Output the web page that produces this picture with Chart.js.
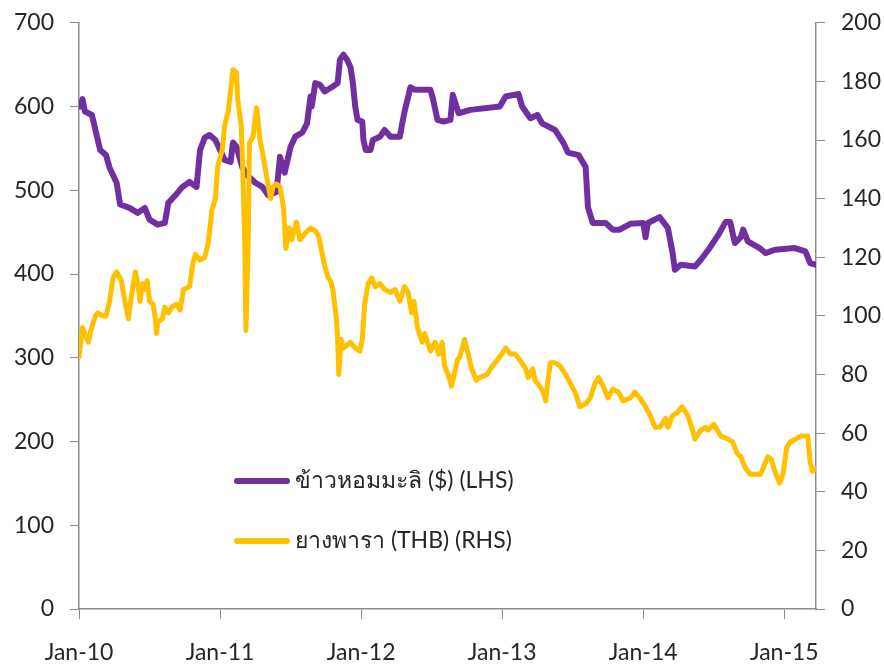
<!DOCTYPE html>
<html>
<head>
<meta charset="utf-8">
<script src="https://cdn.jsdelivr.net/npm/chart.js@4.4.0/dist/chart.umd.min.js"></script>
<style>
  html, body { margin: 0; padding: 0; background: #fff; overflow: hidden; }
  #wrap { width: 884px; height: 674px; margin-top: -7px; }
</style>
</head>
<body>
<div id="wrap"><canvas id="linechart"></canvas></div>
<script>
// months since Jan-10
const tickMonths = [0, 12, 24, 36, 48, 60];
const tickLabels = ['Jan-10', 'Jan-11', 'Jan-12', 'Jan-13', 'Jan-14', 'Jan-15'];

const riceLabel = 'ข้าวหอมมะลิ ($) (LHS)';
const riceMonths = [0.1, 0.3, 0.5, 1.1, 1.4, 1.8, 2.3, 2.6, 3.2, 3.5, 4.3, 5.0, 5.6, 6.0, 6.7, 7.3, 7.6, 8.2, 8.8, 9.4,
  10.0, 10.3, 10.7, 11.1, 11.6, 12.0, 12.4, 12.9, 13.1, 13.4, 13.9, 14.3, 15.0, 15.6, 16.1, 16.8, 17.1, 17.5, 18.0, 18.4,
  19.0, 19.4, 19.7, 19.8, 20.1, 20.5, 20.9, 21.5, 22.0, 22.2, 22.5, 22.8, 23.1, 23.3, 23.5, 23.7, 24.1, 24.2, 24.4, 24.8,
  25.0, 25.6, 26.0, 26.5, 27.3, 27.5, 27.7, 28.2, 28.6, 29.0, 29.9, 30.1, 30.5, 31.0, 31.6, 31.8, 32.3, 33.3, 35.8, 36.3,
  37.4, 37.7, 38.4, 39.0, 39.4, 40.5, 41.2, 41.6, 42.5, 43.1, 43.3, 43.7, 44.8, 45.4, 46.0, 46.9, 48.0, 48.2, 48.4, 49.4,
  50.1, 50.5, 50.7, 51.2, 52.4, 52.9, 53.7, 54.4, 55.0, 55.4, 55.8, 56.3, 56.5, 56.9, 57.9, 58.4, 59.2, 60.9, 61.8, 62.2, 62.7];
const riceValues = [600, 609, 594, 590, 572, 548, 542, 527, 509, 483, 479, 473, 479, 465, 459, 461, 485, 494, 504, 510,
  504, 548, 563, 566, 560, 548, 536, 534, 557, 552, 527, 518, 509, 504, 494, 498, 540, 521, 552, 564,
  569, 580, 612, 600, 628, 626, 618, 623, 628, 656, 662, 656, 647, 628, 600, 584, 582, 560, 548, 548,
  560, 564, 572, 564, 564, 580, 594, 623, 620, 620, 620, 610, 584, 582, 584, 614, 592, 596, 600, 612,
  615, 600, 586, 590, 580, 572, 557, 545, 542, 528, 480, 461, 461, 453, 453, 460, 461, 444, 461, 468,
  455, 425, 405, 411, 409, 417, 432, 447, 462, 462, 437, 444, 453, 439, 431, 425, 429, 431, 427, 413, 411];

const rubberLabel = 'ยางพารา (THB) (RHS)';
const rubberMonths = [0.0, 0.3, 0.5, 0.8, 1.0, 1.4, 1.6, 2.0, 2.3, 2.6,
  2.9, 3.2, 3.6, 3.9, 4.2, 4.5, 4.8, 5.0, 5.2, 5.4,
  5.6, 5.8, 6.0, 6.3, 6.5, 6.6, 6.7, 7.1, 7.3, 7.6,
  7.9, 8.3, 8.6, 8.9, 9.4, 9.7, 9.9, 10.3, 10.7, 11.0,
  11.3, 11.6, 11.8, 12.2, 12.4, 12.7, 12.9, 13.1, 13.4, 13.5,
  13.8, 13.9, 14.1, 14.2, 14.4, 14.5, 14.8, 15.1, 15.2, 15.4,
  15.7, 15.9, 16.3, 16.5, 16.8, 17.1, 17.4, 17.6, 17.9, 18.1,
  18.5, 18.8, 19.2, 19.7, 20.1, 20.4, 20.7, 20.9, 21.2, 21.4,
  21.6, 21.9, 22.0, 22.1, 22.3, 22.5, 23.1, 23.5, 23.9, 24.1,
  24.3, 24.6, 24.9, 25.2, 25.6, 26.0, 26.5, 26.9, 27.3, 27.7,
  28.0, 28.3, 28.5, 28.8, 29.2, 29.4, 29.9, 30.3, 30.6, 30.9,
  31.1, 31.4, 31.7, 32.2, 32.4, 32.8, 33.1, 33.4, 33.8, 34.1,
  34.7, 35.2, 35.8, 36.3, 36.7, 37.1, 37.5, 38.0, 38.2, 38.6,
  38.8, 39.2, 39.5, 39.7, 39.9, 40.1, 40.5, 40.9, 41.4, 41.8,
  42.2, 42.6, 43.1, 43.5, 43.9, 44.2, 44.6, 45.0, 45.4, 45.9,
  46.3, 46.9, 47.3, 47.7, 48.2, 48.6, 49.0, 49.4, 49.9, 50.1,
  50.5, 50.9, 51.3, 51.8, 52.2, 52.4, 52.9, 53.3, 53.5, 54.0,
  54.3, 54.6, 55.2, 55.6, 56.0, 56.3, 56.7, 57.1, 57.5, 58.0,
  58.4, 58.6, 58.9, 59.2, 59.6, 59.9, 60.2, 60.5, 61.0, 61.4,
  61.8, 62.0, 62.2, 62.4, 62.7];
const rubberValues = [86, 96, 94, 91, 95, 100, 101, 100, 100, 105,
  113, 115, 112, 105, 99, 108, 115, 111, 105, 111,
  109, 112, 105, 104, 99, 94, 98, 99, 103, 101,
  103, 104, 102, 109, 110, 118, 121, 119, 120, 125,
  136, 140, 151, 157, 165, 170, 177, 184, 183, 174,
  165, 154, 126, 95, 126, 159, 161, 171, 168, 160,
  154, 149, 140, 144, 145, 144, 137, 123, 130, 126,
  132, 126, 128, 130, 129, 127, 121, 117, 113, 112,
  109, 99, 93, 80, 92, 89, 91, 89, 88, 92,
  104, 111, 113, 110, 111, 109, 108, 109, 105, 110,
  108, 101, 105, 96, 91, 94, 88, 91, 87, 91,
  83, 80, 76, 85, 86, 92, 87, 82, 78, 79,
  80, 83, 86, 89, 87, 87, 85, 82, 79, 82,
  78, 76, 74, 71, 78, 84, 84, 83, 80, 77,
  74, 69, 70, 72, 77, 79, 76, 72, 75, 74,
  71, 72, 74, 72, 69, 66, 62, 62, 65, 62,
  66, 67, 69, 66, 61, 58, 61, 62, 61, 63,
  61, 59, 58, 57, 53, 52, 48, 46, 46, 46,
  50, 52, 51, 47, 43, 46, 55, 57, 58, 59,
  59, 59, 50, 47, 48];

const leftTicks = [0, 100, 200, 300, 400, 500, 600, 700];
const rightTicks = [0, 20, 40, 60, 80, 100, 120, 140, 160, 180, 200];

const purple = '#7030a0';
const gold = '#ffc000';
const axisGrey = '#8c8c8c';
const textColor = '#262626';

function toPoints(xs, ys) {
    return xs.map(function(x, i) { return { x: x, y: ys[i] }; });
}

Chart.defaults.font.family = "Lato, 'Noto Sans', 'DejaVu Sans', sans-serif";
Chart.defaults.font.size = 23;
Chart.defaults.color = textColor;

// legend drawn inside the plot, like the original
const innerLegend = {
    id: 'innerLegend',
    afterDatasetsDraw(chart, args, opts) {
        const ctx = chart.ctx;
        ctx.save();
        ctx.font = opts.font;
        ctx.textBaseline = 'middle';
        ctx.lineCap = 'round';
        opts.items.forEach(function(item) {
            const ds = chart.data.datasets[item.index];
            ctx.strokeStyle = ds.borderColor;
            ctx.lineWidth = 6;
            ctx.beginPath();
            ctx.moveTo(opts.x, item.y);
            ctx.lineTo(opts.x + 50, item.y);
            ctx.stroke();
            ctx.fillStyle = textColor;
            ctx.fillText(ds.label, opts.x + 58, item.y);
        });
        ctx.restore();
    }
};

const ctx = document.getElementById('linechart');
new Chart(ctx, {
    type: 'line',
    data: {
        datasets: [
            {
                label: riceLabel,
                data: toPoints(riceMonths, riceValues),
                borderColor: purple,
                backgroundColor: purple,
                borderWidth: 6,
                yAxisID: 'y',
                order: 1
            },
            {
                label: rubberLabel,
                data: toPoints(rubberMonths, rubberValues),
                borderColor: gold,
                backgroundColor: gold,
                borderWidth: 5,
                yAxisID: 'y1',
                order: 0
            }
        ]
    },
    options: {
        responsive: true,
        maintainAspectRatio: false,
        animation: false,
        layout: { padding: { top: 16, left: 0, right: 0, bottom: 0 } },
        elements: {
            point: { radius: 0 },
            line: { tension: 0, borderJoinStyle: 'round', borderCapStyle: 'round' }
        },
        plugins: {
            legend: { display: false },
            tooltip: { enabled: false },
            innerLegend: {
                x: 237,
                font: "23px Lato, 'Noto Sans', 'DejaVu Sans', sans-serif",
                items: [{ index: 0, y: 488 }, { index: 1, y: 548 }]
            }
        },
        scales: {
            x: {
                type: 'linear',
                min: 0,
                max: 62.7,
                afterFit: function(s) { s.height = 58; },
                afterBuildTicks: function(s) {
                    s.ticks = tickMonths.map(function(v) { return { value: v }; });
                },
                ticks: {
                    padding: 20,
                    maxRotation: 0,
                    autoSkip: false,
                    callback: function(v) { return tickLabels[tickMonths.indexOf(v)]; }
                },
                grid: { drawOnChartArea: false, tickLength: 10, color: axisGrey },
                border: { color: axisGrey, width: 1.5 }
            },
            y: {
                position: 'left',
                min: 0,
                max: 700,
                afterFit: function(s) { s.width = 79; },
                afterBuildTicks: function(s) {
                    s.ticks = leftTicks.map(function(v) { return { value: v }; });
                },
                ticks: { padding: 16 },
                grid: { drawOnChartArea: false, tickLength: 9, color: axisGrey },
                border: { color: axisGrey, width: 1.5 }
            },
            y1: {
                position: 'right',
                min: 0,
                max: 200,
                afterFit: function(s) { s.width = 68; },
                afterBuildTicks: function(s) {
                    s.ticks = rightTicks.map(function(v) { return { value: v }; });
                },
                ticks: { padding: 16 },
                grid: { drawOnChartArea: false, tickLength: 9, color: axisGrey },
                border: { color: axisGrey, width: 1.5 }
            }
        }
    },
    plugins: [innerLegend]
});
</script>
</body>
</html>
